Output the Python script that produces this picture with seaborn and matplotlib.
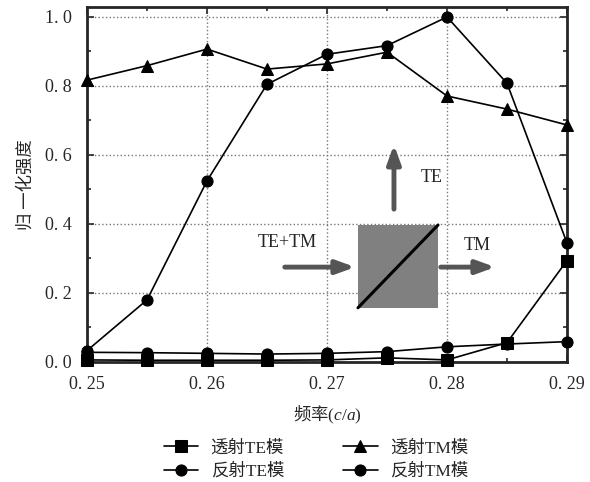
import matplotlib as mpl
mpl.use('Agg')

import matplotlib.pyplot as plt
import pandas as pd
import seaborn as sns
from matplotlib.patches import Rectangle
from matplotlib.ticker import MultipleLocator, FixedLocator, FixedFormatter

freq = [0.25, 0.255, 0.26, 0.265, 0.27, 0.275, 0.28, 0.285, 0.29]
trans_te = [0.006, 0.005, 0.005, 0.005, 0.006, 0.012, 0.006, 0.056, 0.294]
refl_te = [0.033, 0.18, 0.525, 0.805, 0.892, 0.917, 1.0, 0.808, 0.345]
trans_tm = [0.817, 0.859, 0.907, 0.849, 0.864, 0.898, 0.771, 0.733, 0.687]
refl_tm = [0.028, 0.027, 0.025, 0.023, 0.025, 0.030, 0.044, 0.052, 0.059]

series_names = ['透射TE模', '反射TE模', '透射TM模', '反射TM模']
series_markers = ['s', 'o', '^', 'o']
xtick_vals = [0.25, 0.26, 0.27, 0.28, 0.29]
xtick_labels = ['0. 25', '0. 26', '0. 27', '0. 28', '0. 29']
ytick_vals = [0.0, 0.2, 0.4, 0.6, 0.8, 1.0]
ytick_labels = ['0. 0', '0. 2', '0. 4', '0. 6', '0. 8', '1. 0']

sns.set_style('ticks')
plt.rcParams['font.family'] = ['Liberation Serif', 'Noto Sans CJK SC']
plt.rcParams['mathtext.fontset'] = 'custom'
plt.rcParams['mathtext.it'] = 'Liberation Serif:italic'
plt.rcParams['mathtext.rm'] = 'Liberation Serif'

dset = pd.DataFrame({'freq': freq * 4,
                     'value': trans_te + refl_te + trans_tm + refl_tm,
                     'series': sum([[n] * len(freq) for n in series_names], [])})

fig = plt.figure(figsize=(5.9, 4.82), dpi=100)
ax = fig.add_axes([0.1475, 0.249, 0.8135, 0.7365])

for name, mk in zip(series_names, series_markers):
    sub = dset[dset['series'] == name]
    sns.lineplot(x='freq', y='value', data=sub, ax=ax, color='black',
                 marker=mk, markersize=8, markeredgecolor='black',
                 linewidth=1.2, label=name, clip_on=False, zorder=3)

ax.set_xlim(0.25, 0.29)
ax.set_ylim(0, 1.029)
ax.xaxis.set_major_locator(FixedLocator(xtick_vals))
ax.xaxis.set_major_formatter(FixedFormatter(xtick_labels))
ax.xaxis.set_minor_locator(MultipleLocator(0.005))
ax.yaxis.set_major_locator(FixedLocator(ytick_vals))
ax.yaxis.set_major_formatter(FixedFormatter(ytick_labels))
ax.yaxis.set_minor_locator(MultipleLocator(0.1))
ax.tick_params(which='both', direction='in', top=True, right=True, labelsize=13)
ax.tick_params(axis='x', which='major', pad=10)
ax.tick_params(axis='y', which='major', pad=11)
ax.tick_params(which='major', length=5, width=1.2)
ax.tick_params(which='minor', length=3, width=1.2)
ax.grid(True, which='major', linestyle=':', color='#777777', linewidth=1.0)
for sp in ax.spines.values():
    sp.set_linewidth(2.0)

ax.set_xlabel('频率$(c/a)$', fontsize=12.5, labelpad=8,
              family=['Noto Sans CJK SC', 'Liberation Serif'])
ax.set_ylabel('归 一化强度', fontsize=12.5, labelpad=7,
              family=['Noto Sans CJK SC', 'Liberation Serif'])

# polarizing beam splitter sketch
ax.add_patch(Rectangle((0.27258, 0.157), 0.00667, 0.24, facecolor='#808080',
                       edgecolor='none', zorder=4))
ax.plot([0.27258, 0.27925], [0.157, 0.397], color='black', lw=2.2, zorder=5)
arrow = dict(arrowstyle='-|>,head_length=1.1,head_width=0.4', color='#555555', lw=3.5)
ax.annotate('', xy=(0.27558, 0.638), xytext=(0.27558, 0.435), arrowprops=arrow, zorder=5)
ax.annotate('', xy=(0.27258, 0.275), xytext=(0.26625, 0.275), arrowprops=arrow, zorder=5)
ax.annotate('', xy=(0.28425, 0.275), xytext=(0.27925, 0.275), arrowprops=arrow, zorder=5)
ax.text(0.2778, 0.536, 'TE', fontsize=13, va='center', ha='left', zorder=5)
ax.text(0.26667, 0.345, 'TE+TM', fontsize=13, va='center', ha='center', zorder=5)
ax.text(0.2825, 0.337, 'TM', fontsize=13, va='center', ha='center', zorder=5)

ax.legend(loc='upper center', bbox_to_anchor=(0.477, -0.2), ncol=2, frameon=False,
          fontsize=12.5, handlelength=2.0, columnspacing=3.4, labelspacing=0.4,
          borderaxespad=0, handletextpad=0.7)

plt.savefig('out.png', dpi=100)
plt.close()
